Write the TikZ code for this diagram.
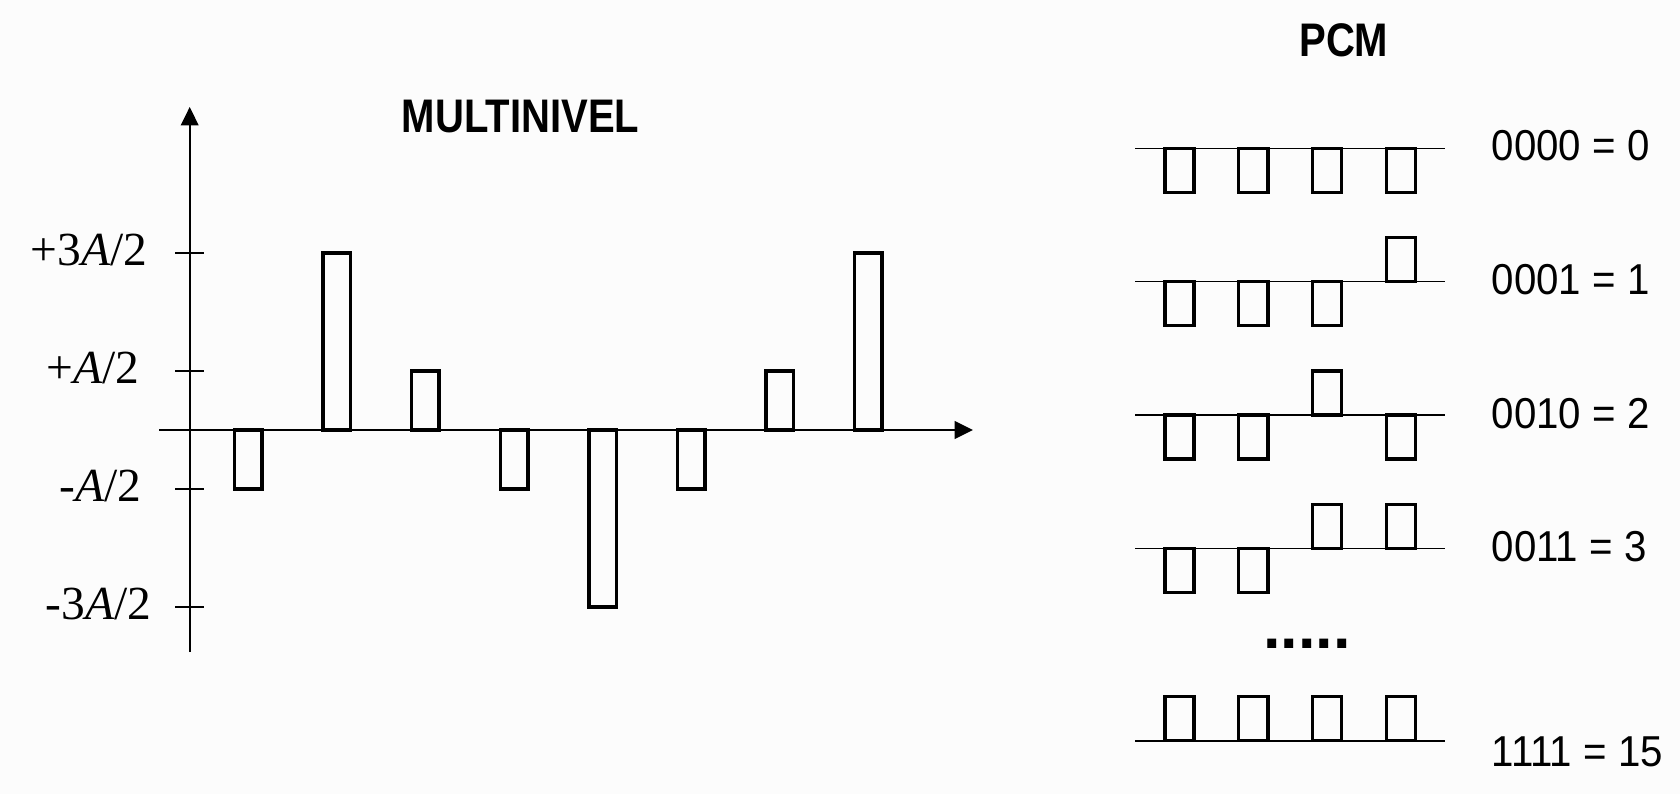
\documentclass[tikz,border=0pt]{standalone}
\usepackage{fontspec}
\setmainfont{Liberation Serif}
\setsansfont{Liberation Sans}
\newfontfamily\titlefont[FakeStretch=0.85]{Liberation Sans}
\newfontfamily\codefont[FakeStretch=0.93]{Liberation Sans}
\usetikzlibrary{arrows.meta}
\definecolor{paper}{RGB}{252,252,252}

\tikzset{
  axis/.style={line width=0.5pt, -{Triangle[length=5.2pt,width=5pt]}},
  bar/.style={line width=1pt},
  level/.style={line width=0.45pt},
  title/.style={font=\titlefont\bfseries\fontsize{13.4}{16}\selectfont, inner sep=0pt, anchor=base},
  code/.style={font=\codefont\fontsize{12.3}{14}\selectfont, inner sep=0pt, anchor=base west},
  amp/.style={font=\fontsize{13.5}{16}\selectfont, inner sep=0pt, anchor=base east},
}

\begin{document}
\begin{tikzpicture}[x=0.01cm,y=-0.01cm]
  \fill[paper] (0,0) rectangle (1680,794);
  \useasboundingbox (0,0) rectangle (1680,794);

  \coordinate (xl) at (159,430);
  \coordinate (xr) at (973,430);
  \coordinate (yb) at (189.7,652);
  \coordinate (yt) at (189.7,107);
  \draw[axis] (xl) -- (xr);
  \draw[axis] (yb) -- (yt);

  \foreach \v/\lab/\xe in {-3/{+3\textit{A}/2}/148, -1/{+\textit{A}/2}/140, 1/{-\textit{A}/2}/142, 3/{-3\textit{A}/2}/152} {
    \draw[level] (175,{430+59*(\v)}) -- (204,{430+59*(\v)});
    \node[amp] (lev\v) at (\xe,{442.5+59*(\v)}) {\lab};
  }

  \foreach \v [count=\i from 0] in {-1,3,1,-1,-3,-1,1,3}
    \draw[bar] ({234.5+88.6*\i},430) rectangle ++(27.5,{-59*(\v)});

  \node[title] (multi) at (520.5,132.3) {MULTINIVEL};
  \node[title] (pcm) at (1343.8,56.8) {PCM};

  \foreach \y/\bits/\code/\dy [count=\r] in {148.3/{0,0,0,0}/{0000 = 0}/12,
      281.7/{0,0,0,1}/{0001 = 1}/12.8, 415/{0,0,1,0}/{0010 = 2}/13,
      548.3/{0,0,1,1}/{0011 = 3}/12.7, 740.7/{1,1,1,1}/{1111 = 15}/25.3} {
    \draw[level] (1135.4,\y) -- (1445,\y);
    \foreach \b [count=\k from 0] in \bits
      \draw[bar] ({1164.9+73.8*\k},\y) rectangle ++(29.2,{44*(1-2*\b)});
    \node[code] (code\r) at (1491,{\y+\dy}) {\code};
  }

  \node[font=\sffamily\bfseries\fontsize{17.9}{20}\selectfont, inner sep=0pt, anchor=base west] (dots) at (1262.3,648.3) {.....};
\end{tikzpicture}
\end{document}
